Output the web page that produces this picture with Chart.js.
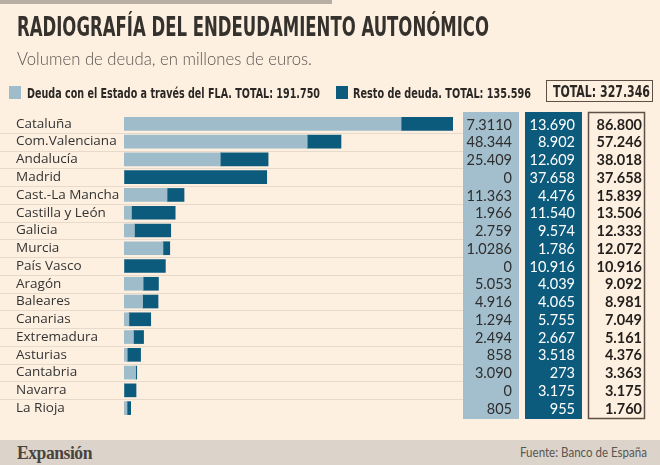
<!DOCTYPE html>
<html>
<head>
<meta charset="utf-8">
<script src="https://cdn.jsdelivr.net/npm/chart.js@4.4.1/dist/chart.umd.min.js"></script>
<style>
    body { margin: 0; background: #fdf0e1; }
    #wrap { position: relative; width: 660px; height: 465px; overflow: hidden; background: #fdf0e1; font-family: Lato, sans-serif; }
    #wrap canvas { position: absolute; left: 0; top: 0; }
    .t { position: absolute; white-space: nowrap; transform-origin: 0 0; line-height: 1; display: inline-block; }
    .cond { font-family: "Liberation Sans Narrow", "DejaVu Sans Condensed", sans-serif; font-weight: bold; }
    #topbar { position: absolute; left: 0; top: 0; width: 332px; height: 4px; background: #b9aea3; }
    #footer { position: absolute; left: 0; top: 440px; width: 660px; height: 25px; background: #dcd4cb; }
    .sq { position: absolute; width: 12px; height: 13px; }
    #box { position: absolute; left: 546px; top: 80px; width: 105px; height: 20px; border: 1.5px solid #5e5047; }
</style>
</head>
<body>
<div id="wrap">
    <canvas id="chart" width="660" height="465"></canvas>
    <div id="topbar"></div>
    <span class="t cond" id="title" style="left:17px;top:14px;font-size:26px;color:#35312d;" data-w="472">RADIOGRAFÍA DEL ENDEUDAMIENTO AUTONÓMICO</span>
    <span class="t" id="sub" style="left:17px;top:50px;font-size:17px;color:#5a5550;font-weight:300;" data-w="295">Volumen de deuda, en millones de euros.</span>
    <div class="sq" style="left:9px;top:86px;background:#9fbccb;"></div>
    <span class="t cond" style="left:27px;top:86px;font-size:14px;color:#2b2724;" data-w="293">Deuda con el Estado a través del FLA. TOTAL: 191.750</span>
    <div class="sq" style="left:336px;top:86px;background:#0c5a7c;"></div>
    <span class="t cond" style="left:353px;top:86px;font-size:14px;color:#2b2724;" data-w="178">Resto de deuda. TOTAL: 135.596</span>
    <div id="box"></div>
    <span class="t cond" style="left:553px;top:84px;font-size:16px;color:#2b2724;" data-w="97">TOTAL: 327.346</span>
    <div id="footer"></div>
    <span class="t" style="left:17px;top:443px;font-size:19px;font-weight:bold;color:#4a4440;font-family:'Liberation Serif',serif;letter-spacing:-0.5px;" data-w="75">Expansión</span>
    <span class="t" style="left:520px;top:446px;font-size:13px;color:#5a5550;" data-w="127">Fuente: Banco de España</span>
</div>
<script>
const REGIONS = ["Cataluña", "Com.Valenciana", "Andalucía", "Madrid", "Cast.-La Mancha", "Castilla y León",
    "Galicia", "Murcia", "País Vasco", "Aragón", "Baleares", "Canarias", "Extremadura", "Asturias",
    "Cantabria", "Navarra", "La Rioja"];
// deuda con el Estado (FLA) y resto, en millones
const FLA = [73110, 48344, 25409, 0, 11363, 1966, 2759, 10286, 0, 5053, 4916, 1294, 2494, 858, 3090, 0, 805];
const RESTO = [13690, 8902, 12609, 37658, 4476, 11540, 9574, 1786, 10916, 4039, 4065, 5755, 2667, 3518, 273, 3175, 955];
// texto de la tabla tal como sale impreso
const FLA_TXT = ["7.3110", "48.344", "25.409", "0", "11.363", "1.966", "2.759", "1.0286", "0", "5.053", "4.916",
    "1.294", "2.494", "858", "3.090", "0", "805"];
const RESTO_TXT = ["13.690", "8.902", "12.609", "37.658", "4.476", "11.540", "9.574", "1.786", "10.916", "4.039",
    "4.065", "5.755", "2.667", "3.518", "273", "3.175", "955"];
const TOTAL_TXT = ["86.800", "57.246", "38.018", "37.658", "15.839", "13.506", "12.333", "12.072", "10.916", "9.092",
    "8.981", "7.049", "5.161", "4.376", "3.363", "3.175", "1.760"];

const LIGHT = "#9fbccb";
const DARK = "#0c5a7c";

// ajustar ancho de los textos del html
document.querySelectorAll("[data-w]").forEach(el => {
    const w = el.getBoundingClientRect().width;
    el.style.transform = `scaleX(${Number(el.dataset.w) / w})`;
});

const tablePlugin = {
    id: "tabla",
    beforeDatasetsDraw(chart) {
        const ctx = chart.ctx;
        const y = chart.scales.y;
        ctx.save();
        ctx.strokeStyle = "#e7dacb";
        ctx.lineWidth = 1;
        for (let i = 0; i < REGIONS.length - 1; i++) {
            const yy = Math.round((y.getPixelForValue(i) + y.getPixelForValue(i + 1)) / 2) + 0.5;
            ctx.beginPath();
            ctx.moveTo(0, yy);
            ctx.lineTo(463, yy);
            ctx.stroke();
        }
        ctx.restore();
    },
    afterDraw(chart) {
        const ctx = chart.ctx;
        const y = chart.scales.y;
        const top = chart.chartArea.top - 3;
        const bottom = chart.chartArea.bottom + 2;
        ctx.save();
        ctx.fillStyle = "#a3bfce";
        ctx.fillRect(463, top, 56, bottom - top);
        ctx.fillStyle = DARK;
        ctx.fillRect(525, top, 57, bottom - top);
        ctx.strokeStyle = "#5e5047";
        ctx.lineWidth = 1.5;
        ctx.strokeRect(588.5, top + 0.5, 56, bottom - top - 1);
        ctx.textAlign = "right";
        ctx.textBaseline = "middle";
        REGIONS.forEach((_, i) => {
            const yy = y.getPixelForValue(i) + 1;
            ctx.font = "14.5px Lato";
            ctx.fillStyle = "#2e2e2e";
            ctx.fillText(FLA_TXT[i], 512, yy);
            ctx.fillStyle = "#ffffff";
            ctx.fillText(RESTO_TXT[i], 575, yy);
            ctx.font = "bold 14.5px Lato";
            ctx.fillStyle = "#221e1b";
            ctx.fillText(TOTAL_TXT[i], 642, yy);
        });
        ctx.restore();
    }
};

new Chart(document.getElementById("chart"), {
    type: "bar",
    data: {
        labels: REGIONS,
        datasets: [
            { label: "Deuda con el Estado a través del FLA", data: FLA, backgroundColor: LIGHT },
            { label: "Resto de deuda", data: RESTO, backgroundColor: DARK },
        ]
    },
    options: {
        indexAxis: "y",
        responsive: false,
        animation: false,
        barThickness: 13,
        borderWidth: 0,
        layout: { padding: { left: 16, right: 207, top: 115, bottom: 48 } },
        scales: {
            x: { stacked: true, display: false, min: 0, max: 86800 },
            y: {
                stacked: true,
                grid: { display: false },
                border: { display: false },
                afterFit(scale) { scale.width = 108; },
                ticks: {
                    autoSkip: false,
                    crossAlign: "far",
                    padding: 0,
                    color: "#333333",
                    font: { family: "Open Sans", size: 13.5 },
                }
            }
        },
        plugins: { legend: { display: false }, tooltip: { enabled: false } }
    },
    plugins: [tablePlugin]
});
</script>
</body>
</html>
